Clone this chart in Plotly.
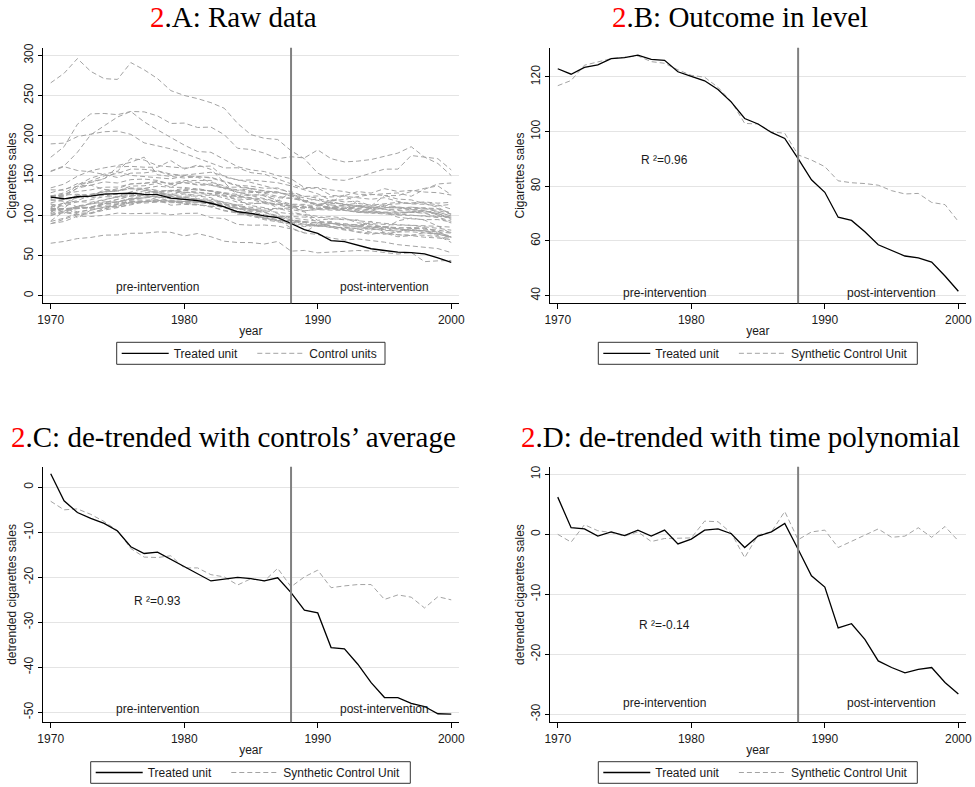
import plotly.graph_objects as go

W, H = 975, 787

years = list(range(1970, 2001))
intervention_year = 1988

# ---- Treated unit (California) and synthetic control ----
treated_sales = [123.0, 121.0, 123.5, 124.4, 126.7, 127.1, 128.0, 126.4, 126.1, 121.9,
                 120.2, 118.6, 115.4, 110.8, 104.8, 102.8, 99.7, 97.5, 90.1, 82.4,
                 77.8, 68.7, 67.5, 63.4, 58.6, 56.4, 54.5, 53.8, 52.3, 47.2, 41.6]
synthetic_sales = [116.8, 118.7, 124.3, 125.5, 126.7, 127.2, 127.7, 125.6, 125.0, 122.6,
                   120.6, 119.9, 116.2, 111.0, 103.0, 102.8, 99.9, 99.4, 91.5, 89.6,
                   87.2, 82.0, 81.3, 81.0, 80.4, 78.4, 77.2, 77.4, 74.1, 73.3, 67.1]

treated_detrend_avg = [3.0, -3.0, -5.6, -6.9, -8.0, -9.7, -13.2, -14.7, -14.4, -16.0,
                       -17.6, -19.1, -20.8, -20.4, -20.0, -20.3, -20.8, -20.1, -23.4, -27.3,
                       -27.9, -35.6, -35.9, -39.3, -43.4, -46.7, -46.7, -48.0, -48.7, -50.3, -50.4]
synthetic_detrend_avg = [-3.1, -5.0, -4.8, -6.0, -7.6, -9.6, -13.6, -15.5, -15.6, -15.2,
                         -17.9, -17.9, -19.4, -19.9, -21.7, -20.3, -20.8, -18.0, -22.1, -19.9,
                         -18.4, -22.3, -21.9, -21.6, -21.6, -24.9, -23.9, -24.4, -26.8, -24.3, -25.0]

treated_detrend_poly = [6.2, 1.1, 0.9, -0.3, 0.4, -0.2, 0.7, -0.3, 0.7, -1.6,
                        -0.8, 0.7, 0.9, 0.1, -2.2, -0.3, 0.4, 1.8, -2.5, -6.9,
                        -8.8, -15.6, -14.9, -17.5, -21.1, -22.2, -23.1, -22.5, -22.2, -24.7, -26.6]
synthetic_detrend_poly = [0.0, -1.3, 1.6, 0.6, 0.3, -0.3, 0.4, -1.2, -0.7, -0.6,
                          -0.6, 2.2, 2.1, 0.2, -3.9, -0.1, 0.4, 3.8, -0.9, 0.4,
                          0.7, -2.2, -1.2, -0.1, 0.9, -0.5, -0.3, 1.1, -0.5, 1.3, -1.1]

# ---- Control units (raw cigarette sales) ----
control_alabama = [89.8, 95.4, 101.1, 102.9, 108.2, 111.7, 116.2, 117.1, 123.0, 121.4, 123.2, 119.6, 119.1, 116.3, 113.0, 114.5, 116.3, 114.0, 112.1, 105.6, 108.6, 107.9, 109.1, 108.5, 107.1, 102.6, 101.4, 104.9, 106.2, 100.7, 96.2]
control_arkansas = [100.3, 104.1, 103.9, 108.0, 109.7, 114.8, 119.1, 122.6, 127.3, 126.5, 131.8, 128.7, 127.4, 128.0, 123.1, 125.8, 126.0, 122.3, 121.5, 118.3, 113.1, 116.8, 126.0, 113.8, 108.8, 113.0, 110.7, 108.7, 109.5, 104.8, 99.4]
control_colorado = [124.8, 125.5, 134.3, 137.9, 132.8, 131.0, 134.2, 132.0, 129.2, 131.5, 131.0, 133.8, 130.5, 125.3, 119.7, 112.4, 109.9, 102.4, 94.6, 88.8, 87.4, 90.2, 88.3, 88.6, 89.1, 85.4, 83.1, 81.3, 81.2, 79.6, 73.0]
control_connecticut = [120.0, 117.6, 110.8, 109.3, 112.4, 110.2, 113.4, 117.3, 117.5, 117.4, 118.0, 116.4, 114.7, 114.1, 112.5, 111.0, 108.5, 109.0, 104.8, 100.6, 91.5, 86.7, 83.5, 79.1, 76.6, 79.3, 76.0, 75.9, 75.5, 73.4, 71.4]
control_delaware = [155.0, 161.1, 156.3, 154.7, 151.3, 147.6, 153.0, 153.3, 155.5, 150.2, 150.5, 152.6, 154.1, 149.6, 144.0, 144.5, 142.4, 141.0, 137.1, 131.7, 127.2, 118.8, 120.0, 123.8, 126.1, 127.2, 128.3, 124.1, 132.8, 139.5, 140.7]
control_georgia = [109.9, 115.7, 117.0, 119.8, 123.7, 122.9, 125.9, 127.9, 130.6, 131.0, 134.0, 131.7, 131.2, 128.6, 126.3, 128.8, 129.0, 129.3, 124.1, 117.1, 113.8, 109.6, 109.0, 112.1, 108.6, 111.7, 109.6, 107.0, 108.4, 108.4, 103.3]
control_idaho = [102.4, 108.5, 126.1, 121.8, 125.6, 123.3, 125.1, 125.0, 122.8, 117.5, 115.2, 114.1, 111.5, 111.3, 103.6, 100.7, 96.7, 95.0, 84.5, 78.4, 90.1, 85.4, 85.1, 86.7, 93.0, 78.2, 73.6, 75.0, 78.9, 75.1, 66.4]
control_illinois = [124.8, 125.6, 126.6, 124.4, 131.9, 131.8, 134.4, 134.0, 136.7, 135.3, 135.2, 133.0, 130.7, 127.9, 124.0, 121.6, 118.2, 109.5, 107.6, 104.6, 94.1, 96.1, 94.8, 94.6, 85.7, 83.9, 93.4, 97.0, 94.3, 86.9, 77.6]
control_indiana = [134.6, 139.3, 149.2, 156.0, 159.6, 162.4, 166.6, 173.0, 150.9, 148.9, 146.9, 148.5, 147.7, 143.0, 137.8, 136.7, 134.1, 134.5, 127.9, 124.0, 124.5, 123.3, 124.8, 130.0, 128.1, 133.6, 130.1, 131.4, 129.4, 128.6, 125.6]
control_iowa = [108.5, 108.4, 109.4, 110.6, 116.1, 120.5, 124.4, 125.5, 127.1, 124.2, 124.6, 124.4, 122.4, 114.6, 112.0, 107.5, 104.8, 98.7, 98.8, 97.7, 97.4, 98.8, 96.8, 90.9, 89.9, 89.2, 88.1, 87.9, 87.7, 86.6, 85.6]
control_kansas = [114.0, 102.8, 111.0, 115.2, 118.6, 123.4, 127.7, 130.9, 129.0, 126.2, 128.4, 121.0, 120.4, 117.1, 113.2, 107.4, 103.9, 98.4, 94.6, 92.4, 90.8, 90.6, 85.7, 83.5, 79.1, 76.6, 80.2, 83.6, 84.6, 80.7, 71.6]
control_kentucky = [172.8, 186.0, 214.0, 227.0, 227.5, 226.0, 230.0, 229.5, 224.5, 215.0, 215.5, 210.0, 210.5, 201.0, 184.0, 182.5, 178.0, 171.0, 173.5, 172.0, 182.0, 171.0, 167.0, 168.0, 170.0, 174.0, 178.0, 186.0, 173.0, 165.0, 150.0]
control_louisiana = [115.9, 119.8, 125.3, 126.7, 129.9, 133.6, 139.6, 140.0, 142.7, 140.1, 143.8, 144.0, 143.9, 133.7, 128.9, 125.0, 121.2, 116.9, 113.3, 112.9, 113.0, 109.0, 107.5, 107.0, 106.8, 109.8, 110.5, 107.5, 105.3, 104.5, 99.4]
control_maine = [128.5, 133.2, 136.5, 138.0, 142.1, 140.7, 144.9, 145.6, 143.9, 138.5, 141.2, 138.9, 139.5, 135.4, 135.5, 133.3, 124.2, 119.1, 114.2, 114.0, 107.8, 113.2, 111.7, 104.9, 103.0, 101.9, 102.1, 100.8, 99.8, 97.6, 90.7]
control_minnesota = [104.3, 116.4, 96.8, 106.8, 110.6, 111.5, 116.7, 117.2, 118.9, 118.3, 117.7, 117.4, 116.1, 111.1, 109.3, 103.1, 97.3, 93.1, 91.3, 87.6, 87.3, 86.2, 84.3, 84.7, 84.2, 81.1, 82.1, 81.8, 80.5, 76.8, 73.3]
control_mississippi = [93.4, 105.4, 112.1, 115.0, 117.1, 116.8, 120.9, 122.1, 124.9, 123.9, 127.0, 125.3, 125.8, 125.5, 122.1, 121.9, 116.8, 114.4, 111.9, 109.4, 110.6, 109.8, 114.0, 106.7, 104.7, 104.2, 103.1, 104.0, 106.0, 102.2, 95.1]
control_missouri = [121.3, 127.6, 130.0, 132.1, 135.4, 135.6, 139.5, 140.8, 141.8, 140.2, 141.2, 138.1, 138.0, 134.0, 132.5, 130.7, 127.9, 124.0, 121.6, 118.2, 120.9, 117.8, 113.4, 115.3, 113.0, 114.7, 116.5, 115.0, 116.0, 113.4, 108.1]
control_montana = [111.2, 115.6, 122.7, 124.5, 127.1, 126.1, 127.5, 128.1, 129.1, 124.0, 122.7, 120.2, 115.9, 111.4, 101.7, 102.1, 96.8, 93.9, 92.2, 89.2, 87.6, 90.3, 88.6, 87.8, 82.2, 84.4, 83.7, 81.4, 80.7, 77.4, 73.2]
control_nebraska = [108.9, 108.6, 104.9, 106.6, 110.5, 114.1, 118.1, 117.7, 117.4, 116.1, 116.3, 117.0, 113.8, 109.4, 104.9, 101.2, 98.5, 94.9, 93.8, 92.3, 90.9, 92.6, 87.3, 86.1, 86.3, 86.4, 84.2, 85.3, 84.3, 79.8, 78.1]
control_nevada = [189.5, 190.5, 198.6, 201.5, 204.7, 205.4, 201.4, 190.8, 187.0, 183.3, 177.7, 171.9, 165.1, 159.5, 159.7, 153.6, 151.7, 145.9, 140.4, 133.7, 134.5, 125.2, 124.1, 122.2, 120.4, 122.3, 117.7, 114.6, 114.1, 112.1, 114.1]
control_new_hampshire = [265.7, 277.6, 296.0, 280.0, 271.0, 270.0, 291.0, 282.0, 271.0, 256.0, 250.0, 246.0, 241.0, 234.0, 215.0, 201.0, 196.5, 195.0, 181.0, 171.0, 153.0, 145.0, 144.0, 148.0, 153.0, 158.0, 158.0, 175.0, 173.0, 171.0, 157.0]
control_new_mexico = [90.0, 92.6, 99.3, 98.9, 100.3, 103.1, 102.4, 102.4, 103.1, 101.0, 102.7, 103.0, 97.5, 96.3, 88.9, 88.0, 88.2, 86.9, 83.4, 78.3, 76.4, 72.0, 69.4, 70.8, 68.8, 66.8, 63.7, 62.1, 60.0, 58.8, 53.7]
control_north_carolina = [155.6, 162.0, 179.0, 201.0, 212.0, 223.0, 230.0, 217.0, 207.0, 197.0, 188.0, 180.0, 179.0, 170.0, 161.0, 157.0, 155.0, 150.0, 146.0, 135.0, 135.0, 132.0, 130.0, 126.5, 126.5, 125.0, 120.6, 119.6, 115.2, 110.4, 100.9]
control_north_dakota = [101.8, 103.6, 101.3, 102.4, 106.8, 109.9, 114.7, 116.8, 119.6, 113.0, 114.0, 113.2, 111.6, 105.8, 103.7, 99.1, 96.0, 94.0, 93.3, 91.4, 86.5, 87.4, 82.9, 83.1, 83.3, 82.5, 79.4, 79.8, 78.5, 77.0, 72.4]
control_ohio = [119.0, 120.1, 122.4, 125.5, 129.5, 130.6, 133.4, 132.7, 130.6, 131.5, 129.0, 128.0, 126.0, 122.0, 116.7, 115.7, 115.0, 113.2, 109.4, 106.0, 107.4, 107.0, 106.4, 105.0, 105.2, 104.4, 104.5, 104.2, 103.5, 101.9, 97.8]
control_oklahoma = [108.1, 108.6, 110.4, 114.7, 116.0, 120.5, 124.4, 125.3, 129.2, 125.2, 132.3, 132.5, 130.5, 127.4, 124.1, 122.4, 120.4, 116.2, 112.4, 110.3, 108.4, 108.8, 106.6, 104.1, 103.9, 103.6, 100.6, 100.3, 99.6, 99.2, 97.6]
control_pennsylvania = [107.4, 108.5, 109.4, 110.4, 114.3, 114.3, 117.4, 117.6, 117.7, 118.6, 116.5, 118.3, 115.4, 113.1, 108.4, 108.5, 106.0, 103.7, 102.2, 101.4, 99.1, 95.5, 96.0, 93.6, 91.7, 90.5, 88.7, 87.8, 86.3, 84.1, 81.8]
control_rhode_island = [123.9, 123.2, 134.4, 142.0, 146.1, 154.7, 150.2, 148.8, 146.8, 145.8, 149.3, 147.7, 141.6, 137.2, 128.8, 130.1, 129.2, 128.1, 126.8, 118.4, 114.6, 113.3, 108.4, 111.1, 108.5, 108.1, 106.3, 105.6, 105.9, 102.6, 96.9]
control_south_carolina = [103.6, 115.0, 118.7, 125.5, 129.7, 130.5, 136.8, 137.2, 140.4, 135.7, 142.5, 141.4, 137.8, 134.2, 131.5, 133.8, 130.3, 129.6, 124.8, 118.5, 113.9, 116.3, 113.8, 111.4, 110.9, 109.9, 109.6, 110.5, 108.9, 106.4, 102.1]
control_south_dakota = [92.7, 96.7, 103.0, 103.5, 108.4, 113.5, 116.7, 115.6, 116.9, 117.4, 114.7, 113.9, 110.6, 106.8, 102.8, 100.4, 94.9, 92.2, 89.6, 86.3, 87.9, 90.1, 88.3, 85.9, 85.3, 84.8, 79.7, 82.6, 80.9, 78.2, 74.4]
control_tennessee = [99.8, 106.3, 111.5, 109.7, 114.8, 117.4, 121.7, 124.6, 127.3, 130.0, 129.0, 129.3, 127.4, 124.1, 119.5, 120.3, 115.4, 114.3, 111.5, 111.3, 108.1, 109.1, 110.7, 108.9, 111.1, 108.2, 107.8, 110.4, 110.0, 108.7, 102.6]
control_texas = [106.4, 108.9, 108.6, 110.4, 114.7, 116.0, 121.4, 122.0, 124.0, 121.0, 123.0, 120.0, 118.0, 114.0, 109.0, 105.0, 101.0, 98.0, 95.0, 92.0, 88.0, 85.0, 82.0, 80.0, 78.0, 78.0, 76.0, 75.0, 73.0, 72.0, 70.0]
control_utah = [65.5, 67.7, 71.3, 72.7, 75.6, 75.8, 77.9, 78.0, 79.6, 79.1, 74.6, 77.6, 73.6, 68.0, 66.4, 66.3, 64.5, 67.7, 55.6, 56.5, 53.5, 54.0, 55.4, 56.4, 55.9, 53.9, 52.0, 54.0, 42.5, 43.5, 44.0]
control_vermont = [122.6, 124.4, 138.0, 146.8, 151.8, 155.5, 171.1, 169.4, 162.4, 160.9, 159.2, 161.3, 161.8, 148.0, 145.0, 141.4, 137.1, 133.0, 130.0, 124.0, 122.0, 110.0, 107.0, 104.0, 103.0, 104.0, 98.0, 96.0, 95.0, 95.0, 92.0]
control_virginia = [124.3, 128.4, 137.0, 143.1, 149.6, 152.7, 158.1, 157.7, 155.9, 151.8, 150.0, 149.0, 147.0, 142.0, 137.0, 134.0, 131.0, 129.0, 126.0, 122.0, 119.0, 115.0, 115.0, 111.0, 110.0, 108.0, 104.0, 104.0, 103.0, 98.0, 93.0]
control_west_virginia = [114.5, 111.5, 117.5, 116.6, 119.9, 123.2, 129.7, 133.9, 131.6, 122.1, 121.9, 119.4, 115.8, 111.1, 108.5, 108.2, 106.7, 108.1, 109.9, 109.3, 113.2, 110.2, 113.2, 112.6, 111.9, 113.5, 114.6, 115.7, 117.0, 115.5, 116.6]
control_wisconsin = [106.4, 105.4, 108.8, 109.5, 114.4, 117.1, 120.1, 119.1, 119.9, 119.1, 120.0, 118.3, 116.8, 115.0, 110.0, 106.0, 104.0, 100.0, 97.0, 95.0, 93.0, 91.0, 90.0, 88.0, 87.0, 86.0, 85.0, 84.0, 83.0, 82.0, 79.0]
control_wyoming = [132.2, 131.7, 140.0, 141.2, 145.8, 160.7, 161.5, 160.4, 160.3, 168.6, 158.1, 163.1, 157.7, 141.2, 125.2, 125.7, 125.4, 118.3, 129.0, 119.0, 112.0, 120.0, 117.0, 118.0, 112.0, 125.0, 125.0, 130.0, 134.0, 137.0, 126.0]

control_series = [control_alabama, control_arkansas, control_colorado, control_connecticut,
                  control_delaware, control_georgia, control_idaho, control_illinois,
                  control_indiana, control_iowa, control_kansas, control_kentucky,
                  control_louisiana, control_maine, control_minnesota, control_mississippi,
                  control_missouri, control_montana, control_nebraska, control_nevada,
                  control_new_hampshire, control_new_mexico, control_north_carolina,
                  control_north_dakota, control_ohio, control_oklahoma, control_pennsylvania,
                  control_rhode_island, control_south_carolina, control_south_dakota,
                  control_tennessee, control_texas, control_utah, control_vermont,
                  control_virginia, control_west_virginia, control_wisconsin, control_wyoming]

# ---- Tick labels ----
x_ticks = [1970, 1980, 1990, 2000]
x_tick_labels = ["1970", "1980", "1990", "2000"]
ya_ticks = [0, 50, 100, 150, 200, 250, 300]
ya_labels = ["0", "50", "100", "150", "200", "250", "300"]
yb_ticks = [40, 60, 80, 100, 120]
yb_labels = ["40", "60", "80", "100", "120"]
yc_ticks = [-50, -40, -30, -20, -10, 0]
yc_labels = ["-50", "-40", "-30", "-20", "-10", "0"]
yd_ticks = [-30, -20, -10, 0, 10]
yd_labels = ["-30", "-20", "-10", "0", "10"]

panel_titles = ["2.A: Raw data", "2.B: Outcome in level",
                "2.C: de-trended with controls\u2019 average",
                "2.D: de-trended with time polynomial"]
r2_labels = ["R \u00b2=0.96", "R \u00b2=0.93", "R \u00b2=-0.14"]

# ---------------------------------------------------------------
SANS = "Liberation Sans, Arial, sans-serif"
SERIF = "Liberation Serif, Times New Roman, serif"
TXT = "#1a1a1a"
GRAY_DASH = "#a3a3a3"
PAD = "\u00a0\u00a0\u00a0"

def fx(p):
    return p / W

def fy(p):
    return 1 - p / H

fig = go.Figure()

# Panel A
for i, series in enumerate(control_series):
    fig.add_trace(go.Scatter(x=years, y=series, mode="lines",
                             line=dict(color=GRAY_DASH, width=1, dash="5px,3px"),
                             name="Control units", legendgroup="ctrl",
                             showlegend=(i == 0), legend="legend",
                             xaxis="x", yaxis="y", legendrank=2))
fig.add_trace(go.Scatter(x=years, y=treated_sales, mode="lines",
                         line=dict(color="black", width=1.3),
                         name="Treated unit" + PAD, legend="legend",
                         xaxis="x", yaxis="y", legendrank=1))

# Panels B, C, D
panels = [("x2", "y2", "legend2", treated_sales, synthetic_sales),
          ("x3", "y3", "legend3", treated_detrend_avg, synthetic_detrend_avg),
          ("x4", "y4", "legend4", treated_detrend_poly, synthetic_detrend_poly)]
for xa, ya, lg, tr, sy in panels:
    fig.add_trace(go.Scatter(x=years, y=sy, mode="lines",
                             line=dict(color=GRAY_DASH, width=1, dash="5px,3px"),
                             name="Synthetic Control Unit", legend=lg,
                             xaxis=xa, yaxis=ya, legendrank=2))
    fig.add_trace(go.Scatter(x=years, y=tr, mode="lines",
                             line=dict(color="black", width=1.3),
                             name="Treated unit" + PAD, legend=lg,
                             xaxis=xa, yaxis=ya, legendrank=1))

left_dom = [fx(42.7), fx(459)]
right_dom = [fx(550), fx(965.7)]
top_dom = [fy(303.3), fy(47.7)]
bot_dom = [fy(722.3), fy(466.7)]

def xax(domain, anchor, rng):
    return dict(domain=domain, anchor=anchor, range=rng,
                tickvals=x_ticks, ticktext=x_tick_labels,
                showline=True, linecolor="black", linewidth=1,
                ticks="outside", ticklen=5, tickcolor="black", tickwidth=1,
                showgrid=False, zeroline=False,
                tickfont=dict(family=SANS, size=12, color=TXT),
                title=dict(text="year", font=dict(family=SANS, size=12, color=TXT), standoff=0))

def yax(domain, anchor, rng, tv, tt, title):
    return dict(domain=domain, anchor=anchor, range=rng,
                tickvals=tv, ticktext=tt, tickangle=-90,
                showline=True, linecolor="black", linewidth=1,
                ticks="outside", ticklen=4, tickcolor="black", tickwidth=1,
                showgrid=True, gridcolor="#e4e4e4", gridwidth=1, zeroline=False,
                tickfont=dict(family=SANS, size=12, color=TXT),
                title=dict(text=title, font=dict(family=SANS, size=12, color=TXT), standoff=2))

# legend boxes (left, top, right, bottom) in pixels
legend_boxes = [(116.7, 342.3, 385.0, 364.3), (598.3, 342.3, 917.3, 364.3),
                (90.7, 761.7, 410.3, 783.3), (598.3, 761.7, 917.3, 783.3)]

def legend_cfg(box):
    l, t, r, b = box
    return dict(x=fx(l), y=fy((t + b) / 2), xanchor="left", yanchor="middle",
                orientation="h", borderwidth=0,
                bgcolor="rgba(0,0,0,0)", font=dict(family=SANS, size=12, color=TXT),
                itemwidth=47, tracegroupgap=0, traceorder="normal")

fig.update_layout(
    width=W, height=H, template="none",
    paper_bgcolor="white", plot_bgcolor="white",
    margin=dict(l=0, r=0, t=0, b=0),
    xaxis=xax(left_dom, "y", [1969.4, 2000.58]),
    yaxis=yax(top_dom, "x", [-9.5, 309.6], ya_ticks, ya_labels, "Cigarettes sales"),
    xaxis2=xax(right_dom, "y2", [1969.42, 2000.55]),
    yaxis2=yax(top_dom, "x2", [37.2, 130.7], yb_ticks, yb_labels, "Cigarettes sales"),
    xaxis3=xax(left_dom, "y3", [1969.4, 2000.58]),
    yaxis3=yax(bot_dom, "x3", [-52.2, 4.58], yc_ticks, yc_labels, "detrended cigarettes sales"),
    xaxis4=xax(right_dom, "y4", [1969.42, 2000.55]),
    yaxis4=yax(bot_dom, "x4", [-31.33, 11.27], yd_ticks, yd_labels, "detrended cigarettes sales"),
    legend=legend_cfg(legend_boxes[0]),
    legend2=legend_cfg(legend_boxes[1]),
    legend3=legend_cfg(legend_boxes[2]),
    legend4=legend_cfg(legend_boxes[3]),
    showlegend=True,
)

# legend frames
for (l, t, r, b) in legend_boxes:
    fig.add_shape(type="rect", xref="paper", yref="paper",
                  x0=fx(l), x1=fx(r), y0=fy(b), y1=fy(t),
                  line=dict(color="#333333", width=1), fillcolor="rgba(0,0,0,0)")

# Intervention lines
for xr in ["x", "x2", "x3", "x4"]:
    yr = xr.replace("x", "y")
    fig.add_shape(type="line", xref=xr, yref=f"{yr} domain",
                  x0=intervention_year, x1=intervention_year, y0=0, y1=1,
                  line=dict(color="#808080", width=2))

# Panel titles
title_pos = [(233, 17), (740, 17), (233, 437), (740, 437)]
for t, (cx, cy) in zip(panel_titles, title_pos):
    num, rest = t.split(".", 1)
    fig.add_annotation(text=f"<span style='color:red'>{num}</span>.{rest}",
                       xref="paper", yref="paper", x=fx(cx), y=fy(cy),
                       xanchor="center", yanchor="middle", showarrow=False,
                       font=dict(family=SERIF, size=29, color="black"))

# pre/post intervention labels
pp_y = {"y": 11.2, "y2": 40.9, "y3": -49.3, "y4": -28.1}
for xr in ["x", "x2", "x3", "x4"]:
    yr = xr.replace("x", "y")
    fig.add_annotation(text="pre-intervention", xref=xr, yref=yr, x=1978, y=pp_y[yr],
                       showarrow=False, xanchor="center", yanchor="middle",
                       font=dict(family=SANS, size=12, color=TXT))
    fig.add_annotation(text="post-intervention", xref=xr, yref=yr, x=1995, y=pp_y[yr],
                       showarrow=False, xanchor="center", yanchor="middle",
                       font=dict(family=SANS, size=12, color=TXT))

# R-squared labels
r2_pos = [("x2", "y2", 89.6), ("x3", "y3", -25.3), ("x4", "y4", -15.1)]
for lab, (xr, yr, yv) in zip(r2_labels, r2_pos):
    fig.add_annotation(text=lab, xref=xr, yref=yr, x=1978, y=yv, showarrow=False,
                       xanchor="center", yanchor="middle",
                       font=dict(family=SANS, size=12, color=TXT))

fig.write_html("out.html", config={"displayModeBar": False},
               post_script="document.body.style.margin='0';document.body.style.overflow='hidden';")
